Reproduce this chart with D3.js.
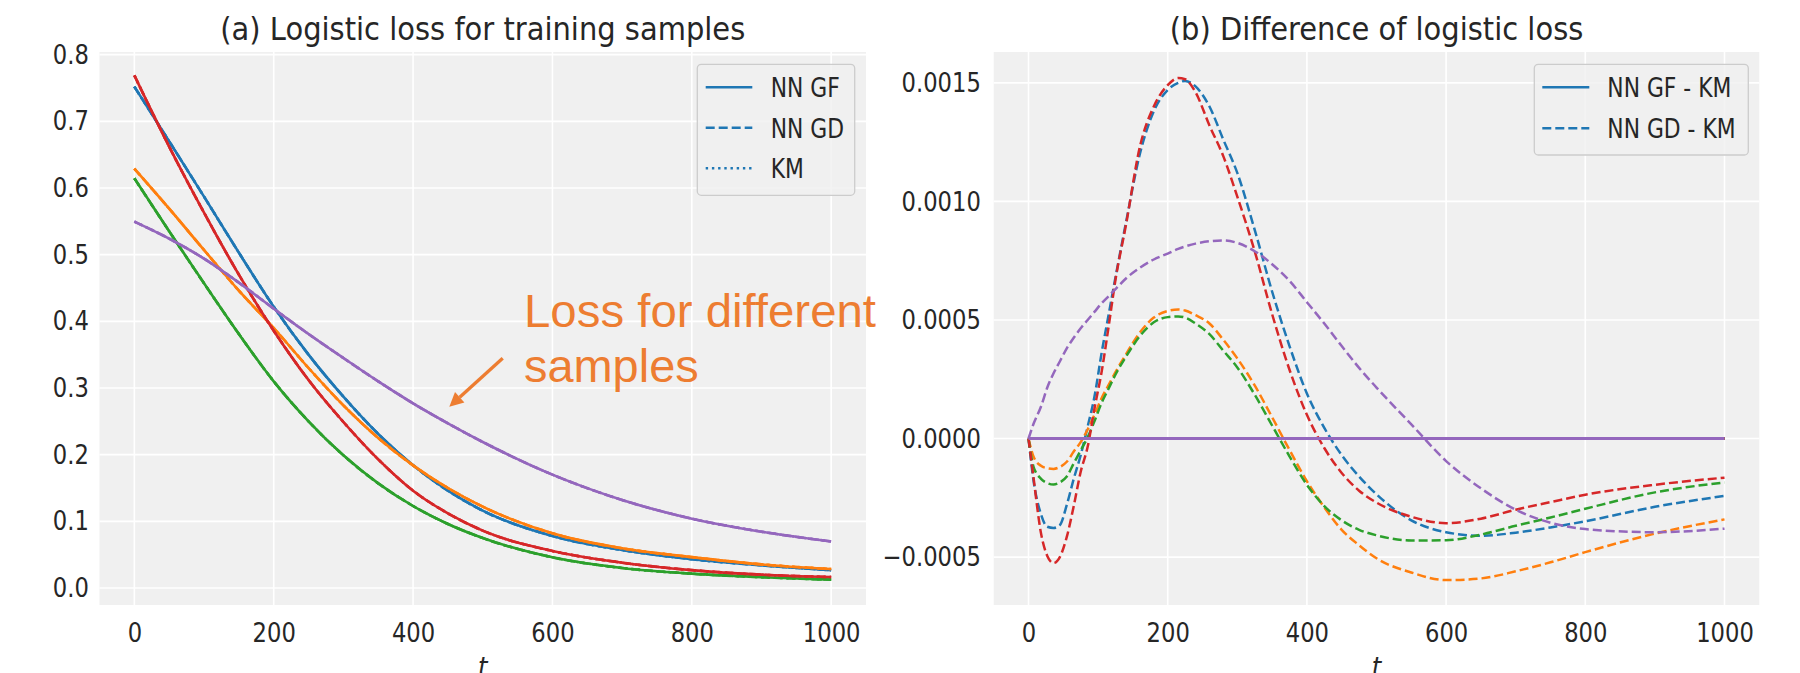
<!DOCTYPE html>
<html>
<head>
<meta charset="utf-8">
<script src="https://cdn.jsdelivr.net/npm/d3@7"></script>
<style>
  body { margin: 0; background: #fff; }
  svg { display: block; }
</style>
</head>
<body>
<div id="chart"></div>
<script>
// ---- data ----
var xTicks = [0, 200, 400, 600, 800, 1000]
var lossTicks = [0.0, 0.1, 0.2, 0.3, 0.4, 0.5, 0.6, 0.7, 0.8]
var diffTicks = [-5, 0, 5, 10, 15]   // in units of 1e-4

var sampleColors = ["#1f77b4", "#ff7f0e", "#2ca02c", "#d62728", "#9467bd"]

// (a) logistic loss, t values
var lossT = [0, 50, 100, 150, 200, 250, 300, 350, 400, 450, 500, 600, 700, 800, 900, 1000]
var lossBlue   = [0.752, 0.670, 0.587, 0.503, 0.422, 0.350, 0.287, 0.231, 0.184, 0.146, 0.116, 0.078, 0.057, 0.0432, 0.034, 0.0267]
var lossOrange = [0.629, 0.569, 0.507, 0.446, 0.390, 0.330, 0.274, 0.225, 0.184, 0.150, 0.122, 0.082, 0.0595, 0.0463, 0.0354, 0.0284]
var lossGreen  = [0.6145, 0.535, 0.457, 0.381, 0.310, 0.250, 0.199, 0.157, 0.123, 0.096, 0.075, 0.046, 0.030, 0.0215, 0.0162, 0.0125]
var lossRed    = [0.769, 0.662, 0.563, 0.470, 0.386, 0.312, 0.249, 0.193, 0.146, 0.112, 0.086, 0.0555, 0.038, 0.0268, 0.020, 0.0164]
var lossPurple = [0.5496, 0.524, 0.494, 0.458, 0.419, 0.381, 0.345, 0.310, 0.277, 0.247, 0.219, 0.170, 0.132, 0.104, 0.0845, 0.0698]

// (b) difference of logistic loss (x 1e-4)
var diffT = [0, 7, 18, 27, 36, 45, 55, 65, 75, 85, 95, 105, 115, 125, 140, 160, 180, 200, 215, 225, 240, 260, 280, 300, 325, 350, 375, 400, 425, 450, 475, 500, 550, 600, 650, 700, 750, 800, 900, 1000]
var gdBlue   = [0, -1.73, -3.2, -3.72, -3.77, -3.65, -2.8, -1.7, -0.7, 0.5, 1.8, 3.6, 5.2, 6.8, 9.1, 12.0, 13.8, 14.7, 15.0, 15.08, 14.85, 14.0, 12.6, 11.2, 8.8, 6.2, 3.9, 1.9, 0.45, -0.7, -1.6, -2.35, -3.45, -3.95, -4.1, -3.97, -3.75, -3.49, -2.88, -2.42]
var gdOrange = [0, -0.75, -1.15, -1.25, -1.28, -1.2, -0.98, -0.55, -0.15, 0.38, 1.02, 1.7, 2.25, 2.8, 3.55, 4.47, 5.1, 5.38, 5.44, 5.4, 5.2, 4.85, 4.16, 3.38, 2.24, 0.9, -0.48, -1.8, -2.9, -3.85, -4.5, -5.05, -5.65, -5.97, -5.9, -5.6, -5.22, -4.79, -4.01, -3.41]
var gdGreen  = [0, -1.17, -1.7, -1.88, -1.94, -1.85, -1.6, -1.05, -0.5, 0.05, 0.75, 1.5, 2.1, 2.7, 3.45, 4.32, 4.9, 5.12, 5.15, 5.1, 4.85, 4.4, 3.7, 3.0, 1.85, 0.55, -0.75, -1.95, -2.85, -3.45, -3.85, -4.08, -4.3, -4.29, -4.05, -3.68, -3.33, -2.96, -2.27, -1.85]
var gdRed    = [0, -1.6, -4.0, -4.95, -5.25, -5.0, -4.15, -2.85, -1.4, -0.35, 1.3, 2.8, 4.7, 6.7, 9.0, 12.3, 14.0, 14.9, 15.2, 15.15, 14.6, 13.2, 11.9, 10.2, 7.9, 5.25, 2.9, 1.0, -0.4, -1.45, -2.2, -2.7, -3.3, -3.57, -3.38, -3.0, -2.68, -2.37, -1.95, -1.65]
var gdPurple = [0, 0.6, 1.35, 2.15, 2.75, 3.25, 3.8, 4.25, 4.65, 5.0, 5.35, 5.7, 6.0, 6.3, 6.75, 7.2, 7.55, 7.8, 8.0, 8.1, 8.22, 8.32, 8.35, 8.25, 7.9, 7.35, 6.65, 5.75, 4.85, 3.9, 2.98, 2.15, 0.6, -0.95, -2.1, -3.0, -3.55, -3.82, -3.95, -3.8]
// NN GF - KM sits on zero for every sample
var gfFlat   = [0, 0, 0, 0, 0, 0, 0, 0, 0, 0, 0, 0, 0, 0, 0, 0, 0, 0, 0, 0, 0, 0, 0, 0, 0, 0, 0, 0, 0, 0, 0, 0, 0, 0, 0, 0, 0, 0, 0, 0]

var lossSeries = [lossBlue, lossOrange, lossGreen, lossRed, lossPurple]
var diffSeries = [gdBlue, gdOrange, gdGreen, gdRed, gdPurple]

// ---- layout ----
var width = 1800, height = 673
var top_ = 52, bottom_ = 605
var dark = "#262626"
var bg = "#f0f0f0"
var DASH = "9,4", DOT = "2.4,3.8"

var svg = d3.select("#chart").append("svg")
    .attr("width", width)
    .attr("height", height)
    .attr("font-family", "DejaVu Sans")

function ctext(g, x, y, txt, size, sx, anchor, color){
    return g.append("text")
        .attr("transform", "translate(" + x + "," + y + ") scale(" + sx + ",1)")
        .attr("text-anchor", anchor)
        .attr("font-size", size)
        .attr("fill", color || dark)
        .text(txt)
}

function panel(left, right, yScale, yTicks, yFmt, yPad, title){
    var x = d3.scaleLinear().domain([-50, 1050]).range([left, right])
    var g = svg.append("g")

    g.append("rect").attr("x", left).attr("y", top_)
        .attr("width", right - left).attr("height", bottom_ - top_)
        .attr("fill", bg)

    // grid
    g.selectAll(".vg").data(xTicks).enter().append("line")
        .attr("x1", d => x(d)).attr("x2", d => x(d))
        .attr("y1", top_).attr("y2", bottom_)
        .attr("stroke", "#fff").attr("stroke-width", 1.6)
    g.selectAll(".hg").data(yTicks).enter().append("line")
        .attr("x1", left).attr("x2", right)
        .attr("y1", d => yScale(d)).attr("y2", d => yScale(d))
        .attr("stroke", "#fff").attr("stroke-width", 1.6)

    // axes
    g.append("g").attr("transform", "translate(0," + bottom_ + ")")
        .call(d3.axisBottom(x).tickValues(xTicks).tickFormat(d3.format("d")).tickSize(0).tickPadding(17.4))
        .attr("font-size", 27).attr("font-family", "DejaVu Sans")
        .call(a => a.select(".domain").remove())
        .call(a => a.selectAll("text").attr("fill", dark).attr("transform", "scale(0.84,1)"))

    g.append("g").attr("transform", "translate(" + left + ",0)")
        .call(d3.axisLeft(yScale).tickValues(yTicks).tickFormat(yFmt).tickSize(0).tickPadding(yPad))
        .attr("font-size", 27).attr("font-family", "DejaVu Sans")
        .call(a => a.select(".domain").remove())
        .call(a => a.selectAll("text").attr("fill", dark).attr("transform", "scale(0.84,1)"))

    ctext(g, (left + right) / 2, 39.5, title, 31.5, 0.92, "middle")
    ctext(g, (left + right) / 2, 676, "t", 27, 0.9, "middle").attr("font-style", "italic")

    return {g: g, x: x}
}

// ---- (a) ----
var yLoss = d3.scaleLinear().domain([-0.0255, 0.804]).range([bottom_, top_])
var pa = panel(99.5, 866, yLoss, lossTicks, d3.format(".1f"), 12.6, "(a) Logistic loss for training samples")

var lineA = d3.line()
    .x((d, i) => pa.x(lossT[i]))
    .y(d => yLoss(d))
    .curve(d3.curveMonotoneX)

lossSeries.forEach(function(s, k){
    [null, DASH, DOT].forEach(function(dash){
        pa.g.append("path").datum(s)
            .attr("d", lineA)
            .attr("fill", "none")
            .attr("stroke", sampleColors[k])
            .attr("stroke-width", 2.6)
            .attr("stroke-dasharray", dash)
    })
})

// annotation
var ann = "#ED7D31"
ctext(pa.g, 524, 326.7, "Loss for different", 46, 1.03, "start", ann).attr("font-family", "Liberation Sans")
ctext(pa.g, 524, 382, "samples", 46, 1.02, "start", ann).attr("font-family", "Liberation Sans")
pa.g.append("line")
    .attr("x1", 502.7).attr("y1", 358.3).attr("x2", 459.7).attr("y2", 397.3)
    .attr("stroke", ann).attr("stroke-width", 3.3)
pa.g.append("path")
    .attr("d", "M449.3,406.7 L464.4,402.5 L455.0,392.1 Z")
    .attr("fill", ann)

// legend (a)
var lgA = pa.g.append("g")
lgA.append("rect").attr("x", 697.3).attr("y", 64.3).attr("width", 157.4).attr("height", 131)
    .attr("rx", 4).attr("fill", bg).attr("fill-opacity", 0.8)
    .attr("stroke", "#cccccc").attr("stroke-width", 1.3)
var legA = [["NN GF", null], ["NN GD", DASH], ["KM", DOT]]
legA.forEach(function(d, i){
    var yy = 87.3 + i * 40.5
    lgA.append("line").attr("x1", 705.7).attr("x2", 752.3).attr("y1", yy).attr("y2", yy)
        .attr("stroke", sampleColors[0]).attr("stroke-width", 2.6).attr("stroke-dasharray", d[1])
    ctext(lgA, 770.7, yy + 10, d[0], 26, 0.84, "start")
})

// ---- (b) ----
var yDiff = d3.scaleLinear().domain([-7.02, 16.3]).range([bottom_, top_])
var pb = panel(993.7, 1759.3, yDiff, diffTicks, d => d3.format(".4f")(d * 1e-4), 15.3, "(b) Difference of logistic loss")

var lineB = d3.line()
    .x((d, i) => pb.x(diffT[i]))
    .y(d => yDiff(d))
    .curve(d3.curveMonotoneX)

diffSeries.forEach(function(s, k){
    pb.g.append("path").datum(gfFlat)
        .attr("d", lineB).attr("fill", "none")
        .attr("stroke", sampleColors[k]).attr("stroke-width", 3)
    pb.g.append("path").datum(s)
        .attr("d", lineB).attr("fill", "none")
        .attr("stroke", sampleColors[k]).attr("stroke-width", 2.5)
        .attr("stroke-dasharray", DASH)
})

// legend (b)
var lgB = pb.g.append("g")
lgB.append("rect").attr("x", 1534.3).attr("y", 64.3).attr("width", 214).attr("height", 90.7)
    .attr("rx", 4).attr("fill", bg).attr("fill-opacity", 0.8)
    .attr("stroke", "#cccccc").attr("stroke-width", 1.3)
var legB = [["NN GF - KM", null], ["NN GD - KM", DASH]]
legB.forEach(function(d, i){
    var yy = 87.3 + i * 41
    lgB.append("line").attr("x1", 1542.3).attr("x2", 1589.3).attr("y1", yy).attr("y2", yy)
        .attr("stroke", sampleColors[0]).attr("stroke-width", 2.6).attr("stroke-dasharray", d[1])
    ctext(lgB, 1607.3, yy + 10, d[0], 26, 0.84, "start")
})
</script>
</body>
</html>
